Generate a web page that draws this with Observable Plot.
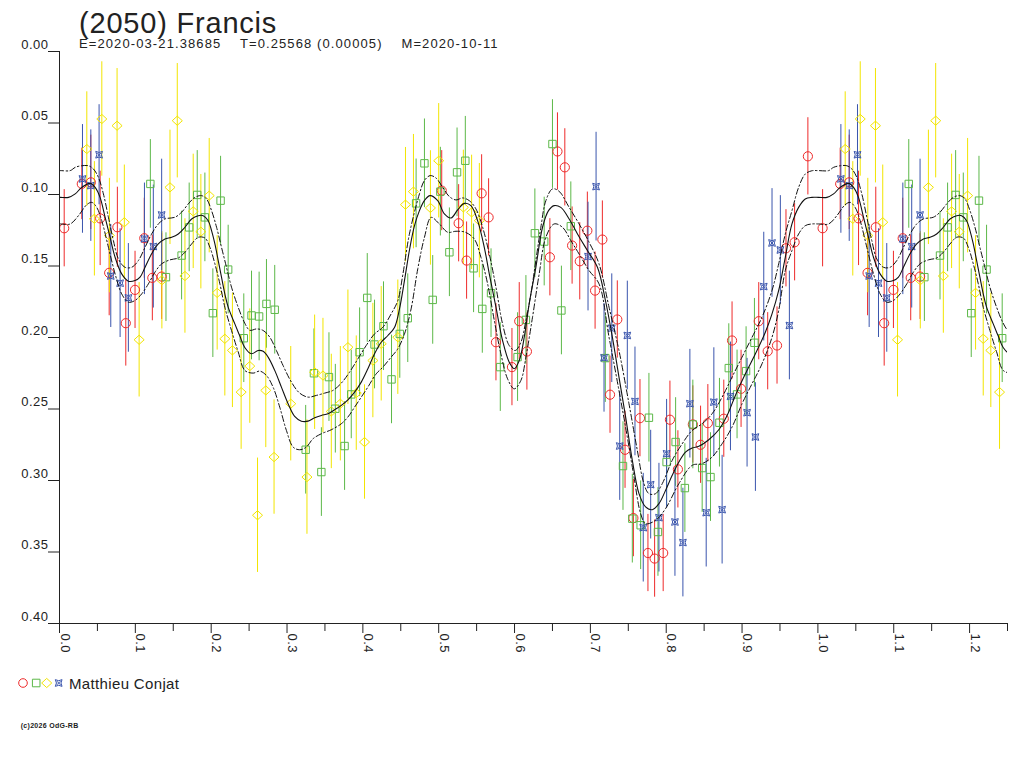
<!DOCTYPE html>
<html>
<head>
<meta charset="utf-8">
<script src="https://cdn.jsdelivr.net/npm/d3@7"></script>
<script src="https://cdn.jsdelivr.net/npm/@observablehq/plot@0.6"></script>
<style>
  html, body { margin: 0; padding: 0; background: #fff; }
  #wrap { position: relative; width: 1024px; height: 768px; overflow: hidden; font-family: "Liberation Sans", Arial, sans-serif; color: #222; }
  #chart { position: absolute; left: 0; top: 0; }
  .abs { position: absolute; white-space: pre; line-height: 1; }
  #title { left: 79px; top: 8.8px; font-size: 29px; letter-spacing: 0.8px; }
  #subtitle { left: 79px; top: 37.3px; font-size: 13px; letter-spacing: 1.1px; }
  #legendText { left: 69px; top: 675.6px; font-size: 15px; letter-spacing: 0.35px; }
  #copy { left: 20.7px; top: 722.4px; font-size: 7px; font-weight: bold; letter-spacing: 0.3px; }
  #legendSym { position: absolute; left: 0; top: 670px; }
</style>
</head>
<body>
<div id="wrap">
  <div id="chart"></div>
  <div id="title" class="abs">(2050) Francis</div>
  <div id="subtitle" class="abs">E=2020-03-21.38685    T=0.25568 (0.00005)    M=2020-10-11</div>
  <svg id="legendSym" width="70" height="26"></svg>
  <div id="legendText" class="abs">Matthieu Conjat</div>
  <div id="copy" class="abs">(c)2026 OdG-RB</div>
</div>
<script>
// ---- observations: [phase, magnitude, error] ----
const red = [
  [0.0062,0.1236,0.027],[0.0294,0.0926,0.025],[0.0413,0.0915,0.033],[0.0536,0.1167,0.033],
  [0.0763,0.1229,0.028],[0.0655,0.1548,0.030],[0.0874,0.1900,0.030],[0.0996,0.1667,0.027],
  [0.1118,0.1306,0.028],[0.1224,0.1583,0.030],[0.1347,0.1574,0.030],
  [0.5040,0.0973,0.028],[0.5263,0.1201,0.027],[0.5368,0.1462,0.027],[0.5566,0.0992,0.027],
  [0.5658,0.1160,0.027],[0.5755,0.2033,0.027],[0.5966,0.2207,0.027],[0.6062,0.1886,0.027],
  [0.6163,0.2098,0.027],[0.6466,0.1439,0.027],[0.6566,0.0699,0.027],[0.6663,0.0810,0.027],
  [0.6759,0.1357,0.027],[0.6860,0.1467,0.027],[0.6960,0.1253,0.027],[0.7062,0.1672,0.027],
  [0.7158,0.1315,0.027],[0.7355,0.1874,0.027],[0.7259,0.2400,0.027],
  [0.7457,0.2785,0.027],[0.7567,0.3263,0.027],[0.7654,0.2564,0.027],[0.7759,0.3507,0.027],
  [0.7847,0.3546,0.027],[0.7960,0.3507,0.027],[0.8049,0.2575,0.027],[0.8154,0.2922,0.027],
  [0.8351,0.2608,0.027],[0.8453,0.2750,0.027],[0.8549,0.2599,0.027],[0.8759,0.2568,0.027],
  [0.8868,0.2021,0.027],[0.8987,0.2359,0.027],[0.9220,0.1886,0.027],[0.9338,0.2096,0.027],
  [0.9461,0.2056,0.027],[0.9579,0.1376,0.027],[0.9693,0.1334,0.027],[0.9868,0.0733,0.027]
];
const green = [
  [0.1198,0.0926,0.031],[0.1404,0.1578,0.031],[0.1610,0.1427,0.031],[0.1710,0.1230,0.031],
  [0.1816,0.1003,0.031],[0.1917,0.1160,0.031],[0.2124,0.1043,0.031],[0.2224,0.1525,0.031],
  [0.2022,0.1830,0.031],[0.2430,0.2005,0.031],[0.2532,0.1846,0.031],
  [0.2632,0.1853,0.031],[0.2729,0.1765,0.031],[0.2838,0.1806,0.031],[0.3246,0.2785,0.031],
  [0.3453,0.2941,0.031],[0.3355,0.2250,0.031],[0.3553,0.2277,0.031],[0.3637,0.2498,0.031],
  [0.3759,0.2759,0.031],[0.3847,0.2398,0.031],[0.3957,0.2103,0.031],[0.4058,0.1723,0.031],
  [0.4154,0.2049,0.031],[0.4272,0.1921,0.031],[0.4378,0.2293,0.031],[0.4487,0.1975,0.031],
  [0.4592,0.1865,0.031],[0.4921,0.1737,0.031],
  [0.4702,0.1062,0.031],[0.4812,0.0782,0.031],[0.5022,0.0980,0.031],[0.5141,0.1404,0.031],
  [0.5242,0.0845,0.031],[0.5351,0.0764,0.031],[0.5460,0.1516,0.031],[0.5575,0.1800,0.031],
  [0.5690,0.1690,0.031],[0.5812,0.2207,0.031],[0.6040,0.2137,0.031],[0.6150,0.1877,0.031],
  [0.6268,0.1271,0.031],[0.6391,0.1329,0.031],[0.6500,0.0647,0.031],[0.6618,0.1811,0.031],
  [0.6742,0.1222,0.031],[0.7197,0.2144,0.031],
  [0.7430,0.2899,0.031],[0.7772,0.2561,0.031],[0.7553,0.3267,0.031],[0.7663,0.3313,0.031],
  [0.7891,0.3360,0.031],[0.8005,0.2871,0.031],[0.8124,0.2731,0.031],[0.8246,0.3053,0.031],
  [0.8351,0.2608,0.031],[0.8474,0.2913,0.031],[0.8584,0.2976,0.031],[0.8702,0.2596,0.031],
  [0.8825,0.2214,0.031],[0.8934,0.2398,0.031],[0.9053,0.2235,0.031],[0.9163,0.2037,0.031]
];
const yellow = [
  [0.0360,0.0682,0.040],[0.0558,0.0472,0.040],[0.0460,0.1170,0.040],[0.0759,0.0519,0.040],
  [0.0658,0.1287,0.040],[0.0855,0.1194,0.040],[0.1050,0.2016,0.040],[0.1350,0.1600,0.034],
  [0.1457,0.0950,0.040],[0.1553,0.0484,0.040],[0.1654,0.1570,0.040],[0.1763,0.1118,0.040],
  [0.1864,0.1260,0.040],[0.1974,0.1008,0.040],[0.2079,0.1688,0.040],[0.2180,0.2009,0.040],
  [0.2280,0.2090,0.040],[0.2509,0.2200,0.040],[0.2395,0.2382,0.040],[0.2720,0.2370,0.040],
  [0.2611,0.3243,0.040],[0.2829,0.2836,0.040],[0.3049,0.2463,0.040],[0.3263,0.2976,0.040],
  [0.3364,0.2243,0.040],[0.3474,0.2266,0.040],[0.3584,0.2517,0.040],[0.3703,0.2463,0.040],
  [0.3803,0.2068,0.040],[0.3913,0.2389,0.040],[0.4022,0.2731,0.040],[0.4132,0.2161,0.040],
  [0.4242,0.2044,0.040],[0.4461,0.1998,0.040],
  [0.4562,0.1071,0.040],[0.4667,0.0980,0.040],[0.4891,0.1094,0.040],[0.5000,0.0764,0.040],
  [0.5325,0.1090,0.040],[0.5434,0.1125,0.040],[0.5536,0.1183,0.040]
];
const blue = [
  [0.0303,0.0891,0.038],[0.0413,0.0938,0.039],[0.0522,0.0722,0.035],[0.0676,0.1570,0.036],
  [0.0799,0.1620,0.038],[0.0908,0.1723,0.038],[0.1120,0.1310,0.039],[0.1237,0.1364,0.043],
  [0.1347,0.1143,0.039],
  [0.6969,0.1434,0.038],[0.7075,0.0945,0.038],[0.7282,0.1935,0.038],[0.7487,0.1986,0.038],
  [0.7180,0.2142,0.038],[0.7588,0.2447,0.038],
  [0.7387,0.2759,0.038],[0.7697,0.3330,0.038],[0.7795,0.3029,0.038],[0.7904,0.3260,0.038],
  [0.8005,0.2813,0.038],[0.8115,0.3290,0.038],[0.8220,0.3434,0.038],[0.8312,0.2463,0.038],
  [0.8527,0.3225,0.038],[0.8628,0.2452,0.038],[0.8737,0.3204,0.038],[0.8847,0.2412,0.038],
  [0.9066,0.2526,0.038],[0.9176,0.2696,0.038],[0.9286,0.1644,0.038],[0.9395,0.1339,0.038],
  [0.9505,0.1388,0.038],[0.9624,0.1916,0.038]
];

// ---- fitted curve and its envelopes: [phase, magnitude] ----
const fitCurve = [
  [0.0009,0.1020],[0.0119,0.1020],[0.0207,0.0996],[0.0294,0.0950],[0.0404,0.0922],[0.0470,0.0950],
  [0.0535,0.1020],[0.0601,0.1159],[0.0667,0.1299],[0.0733,0.1439],[0.0820,0.1555],[0.0908,0.1606],
  [0.0996,0.1602],[0.1062,0.1578],[0.1128,0.1509],[0.1215,0.1415],[0.1303,0.1346],[0.1391,0.1311],
  [0.1479,0.1299],[0.1566,0.1276],[0.1654,0.1229],[0.1742,0.1171],[0.1830,0.1148],[0.1895,0.1148],
  [0.1961,0.1183],[0.2005,0.1253],[0.2049,0.1346],[0.2093,0.1462],[0.2136,0.1578],[0.2180,0.1695],
  [0.2224,0.1788],[0.2312,0.1905],[0.2378,0.1990],[0.2443,0.2070],[0.2531,0.2114],[0.2619,0.2091],
  [0.2685,0.2096],[0.2751,0.2137],[0.2838,0.2230],[0.2926,0.2347],[0.3014,0.2463],[0.3101,0.2552],
  [0.3189,0.2585],[0.3277,0.2585],[0.3365,0.2561],[0.3453,0.2545],[0.3540,0.2533],[0.3628,0.2505],
  [0.3716,0.2475],[0.3803,0.2436],[0.3891,0.2382],[0.3979,0.2312],[0.4066,0.2219],[0.4154,0.2114],
  [0.4242,0.2033],[0.4330,0.1986],[0.4417,0.1930],[0.4483,0.1800],[0.4549,0.1600],[0.4614,0.1390],
  [0.4680,0.1220],[0.4746,0.1113],[0.4811,0.1043],[0.4886,0.1008],[0.4987,0.1043],[0.5075,0.1136],
  [0.5163,0.1164],[0.5250,0.1108],[0.5338,0.1062],[0.5425,0.1078],[0.5513,0.1183],[0.5601,0.1369],
  [0.5667,0.1555],[0.5755,0.1788],[0.5842,0.2021],[0.5930,0.2173],[0.5996,0.2219],[0.6062,0.2161],
  [0.6128,0.1998],[0.6193,0.1765],[0.6281,0.1509],[0.6369,0.1229],[0.6448,0.1113],[0.6522,0.1078],
  [0.6610,0.1090],[0.6720,0.1171],[0.6830,0.1276],[0.6961,0.1392],[0.7093,0.1509],[0.7202,0.1750],
  [0.7290,0.1998],[0.7377,0.2277],[0.7465,0.2557],[0.7553,0.2859],[0.7641,0.3092],[0.7728,0.3185],
  [0.7816,0.3204],[0.7904,0.3162],[0.7991,0.3069],[0.8079,0.2964],[0.8167,0.2871],[0.8254,0.2801],
  [0.8342,0.2773],[0.8430,0.2761],[0.8561,0.2715],[0.8693,0.2645],[0.8803,0.2545],[0.8912,0.2405],
  [0.9044,0.2254],[0.9176,0.2114],[0.9307,0.1963],[0.9395,0.1835],[0.9483,0.1671],[0.9570,0.1439],
  [0.9658,0.1206],[0.9746,0.1090],[0.9833,0.1031],[0.9921,0.1020]
];
const fitUpper = [
  [0.0009,0.0833],[0.0141,0.0833],[0.0207,0.0810],[0.0294,0.0799],[0.0382,0.0799],[0.0448,0.0822],
  [0.0513,0.0880],[0.0579,0.0996],[0.0645,0.1159],[0.0711,0.1323],[0.0777,0.1451],[0.0864,0.1509],
  [0.0952,0.1509],[0.1040,0.1462],[0.1128,0.1369],[0.1215,0.1276],[0.1303,0.1206],[0.1391,0.1171],
  [0.1522,0.1159],[0.1610,0.1124],[0.1698,0.1066],[0.1786,0.1020],[0.1873,0.1008],[0.1939,0.1031],
  [0.2005,0.1113],[0.2071,0.1229],[0.2136,0.1369],[0.2202,0.1509],[0.2268,0.1648],[0.2356,0.1788],
  [0.2443,0.1900],[0.2510,0.1950],[0.2597,0.1940],[0.2685,0.1951],[0.2773,0.1998],[0.2860,0.2091],
  [0.2948,0.2196],[0.3058,0.2312],[0.3167,0.2389],[0.3277,0.2417],[0.3387,0.2405],[0.3496,0.2389],
  [0.3606,0.2370],[0.3716,0.2319],[0.3825,0.2242],[0.3935,0.2149],[0.4044,0.2056],[0.4154,0.1975],
  [0.4264,0.1928],[0.4373,0.1835],[0.4461,0.1742],[0.4527,0.1560],[0.4614,0.1276],[0.4746,0.0996],
  [0.4811,0.0903],[0.4886,0.0868],[0.4965,0.0885],[0.5053,0.0950],[0.5141,0.1015],[0.5228,0.1038],
  [0.5316,0.1024],[0.5403,0.1043],[0.5491,0.1101],[0.5579,0.1229],[0.5667,0.1416],[0.5755,0.1648],
  [0.5842,0.1905],[0.5930,0.2056],[0.6009,0.2091],[0.6084,0.2033],[0.6150,0.1881],[0.6216,0.1695],
  [0.6281,0.1462],[0.6347,0.1229],[0.6413,0.1043],[0.6500,0.0961],[0.6588,0.0978],[0.6720,0.1090],
  [0.6851,0.1206],[0.6983,0.1334],[0.7114,0.1485],[0.7246,0.1788],[0.7377,0.2091],[0.7509,0.2463],
  [0.7619,0.2789],[0.7706,0.3022],[0.7772,0.3092],[0.7860,0.3092],[0.7948,0.3022],[0.8079,0.2859],
  [0.8211,0.2743],[0.8342,0.2650],[0.8474,0.2603],[0.8605,0.2533],[0.8737,0.2417],[0.8868,0.2277],
  [0.9000,0.2137],[0.9132,0.1998],[0.9263,0.1858],[0.9395,0.1671],[0.9483,0.1485],[0.9570,0.1276],
  [0.9658,0.1113],[0.9746,0.0950],[0.9833,0.0857],[0.9921,0.0834]
];
const fitLower = [
  [0.0009,0.1206],[0.0141,0.1206],[0.0250,0.1148],[0.0360,0.1071],[0.0426,0.1055],[0.0491,0.1090],
  [0.0557,0.1183],[0.0645,0.1369],[0.0733,0.1555],[0.0820,0.1695],[0.0908,0.1753],[0.0996,0.1741],
  [0.1084,0.1695],[0.1172,0.1625],[0.1259,0.1543],[0.1347,0.1485],[0.1457,0.1457],[0.1566,0.1444],
  [0.1654,0.1404],[0.1742,0.1346],[0.1830,0.1299],[0.1917,0.1304],[0.1983,0.1369],[0.2049,0.1485],
  [0.2115,0.1625],[0.2180,0.1788],[0.2268,0.1951],[0.2356,0.2100],[0.2443,0.2230],[0.2553,0.2249],
  [0.2641,0.2235],[0.2729,0.2266],[0.2816,0.2347],[0.2904,0.2487],[0.2992,0.2650],[0.3080,0.2766],
  [0.3167,0.2785],[0.3255,0.2766],[0.3343,0.2708],[0.3453,0.2673],[0.3584,0.2645],[0.3716,0.2603],
  [0.3803,0.2556],[0.3891,0.2487],[0.3979,0.2417],[0.4066,0.2347],[0.4176,0.2254],[0.4264,0.2207],
  [0.4373,0.2137],[0.4461,0.2079],[0.4549,0.1975],[0.4636,0.1800],[0.4724,0.1520],[0.4812,0.1300],
  [0.4900,0.1160],[0.5009,0.1206],[0.5119,0.1264],[0.5228,0.1257],[0.5351,0.1264],[0.5469,0.1311],
  [0.5557,0.1439],[0.5645,0.1625],[0.5733,0.1881],[0.5820,0.2114],[0.5908,0.2289],[0.5996,0.2359],
  [0.6084,0.2300],[0.6150,0.2137],[0.6237,0.1858],[0.6325,0.1555],[0.6413,0.1299],[0.6522,0.1206],
  [0.6632,0.1229],[0.6742,0.1322],[0.6851,0.1416],[0.6983,0.1532],[0.7114,0.1625],[0.7246,0.1998],
  [0.7377,0.2370],[0.7487,0.2696],[0.7575,0.2975],[0.7663,0.3232],[0.7728,0.3302],[0.7860,0.3278],
  [0.7991,0.3197],[0.8167,0.3022],[0.8342,0.2894],[0.8474,0.2882],[0.8605,0.2836],[0.8737,0.2743],
  [0.8868,0.2626],[0.9000,0.2463],[0.9132,0.2323],[0.9263,0.2184],[0.9395,0.1998],[0.9483,0.1811],
  [0.9570,0.1532],[0.9658,0.1392],[0.9746,0.1276],[0.9833,0.1218],[0.9921,0.1206]
];

// ---- axis ticks ----
const xMajor = [0,0.1,0.2,0.3,0.4,0.5,0.6,0.7,0.8,0.9,1.0,1.1,1.2];
const xMinor = [0.05,0.15,0.25,0.35,0.45,0.55,0.65,0.75,0.85,0.95,1.05,1.15,1.25];
const yTicks = [0,0.05,0.1,0.15,0.2,0.25,0.3,0.35,0.4];

// ---- symbols ----
const symSquare = {draw(ctx, size){const r=Math.sqrt(size/Math.PI), h=r*0.86; ctx.moveTo(-h,-h); ctx.lineTo(h,-h); ctx.lineTo(h,h); ctx.lineTo(-h,h); ctx.closePath();}};
const symDiamond = {draw(ctx, size){const r=Math.sqrt(size/Math.PI), a=r*1.12, b=r*1.02; ctx.moveTo(0,-b); ctx.lineTo(a,0); ctx.lineTo(0,b); ctx.lineTo(-a,0); ctx.closePath();}};
const symStar = {draw(ctx, size){const r=Math.sqrt(size/Math.PI), h=r*0.8, k=h*0.35;
  ctx.moveTo(-h,-h); ctx.quadraticCurveTo(0,-k,h,-h); ctx.quadraticCurveTo(k,0,h,h);
  ctx.quadraticCurveTo(0,k,-h,h); ctx.quadraticCurveTo(-k,0,-h,-h); ctx.closePath();
  ctx.moveTo(-h*0.55,-h*0.55); ctx.lineTo(h*0.55,h*0.55); ctx.moveTo(h*0.55,-h*0.55); ctx.lineTo(-h*0.55,h*0.55);}};

const series = [
  {data: red, color: "#ee2a2a", symbol: "circle", r: 4.6},
  {data: green, color: "#5cb848", symbol: symSquare, r: 4.3},
  {data: yellow, color: "#f2e500", symbol: symDiamond, r: 4.5},
  {data: blue, color: "#3a55ad", symbol: symStar, r: 4.2}
];

// phase-folded display: phases below 0.25 are shown again one period later
const fold = arr => arr.flatMap(([p, m, e]) => p < 0.25 ? [{p, m, e}, {p: p + 1, m, e}] : [{p, m, e}]);
const wrapCurve = arr => [
  ...arr.filter(d => d[0] > 0.95).map(d => [d[0] - 1, d[1]]),
  ...arr,
  ...arr.filter(d => d[0] < 0.3).map(d => [d[0] + 1, d[1]])
];

const ink = "#222";
const marks = [];
for (const s of series) {
  const rows = fold(s.data);
  marks.push(Plot.ruleX(rows, {x: "p", y1: d => d.m - d.e, y2: d => d.m + d.e, stroke: s.color, strokeWidth: 1, clip: true}));
}
for (const s of series) {
  const rows = fold(s.data);
  marks.push(Plot.dot(rows, {x: "p", y: "m", symbol: s.symbol, r: s.r, stroke: s.color, fill: "none", strokeWidth: 1, clip: true}));
}
marks.push(
  Plot.line(wrapCurve(fitUpper), {x: d => d[0], y: d => d[1], curve: "catmull-rom", stroke: "#111", strokeWidth: 1, strokeDasharray: "6,2.5,1.5,2.5", clip: true}),
  Plot.line(wrapCurve(fitLower), {x: d => d[0], y: d => d[1], curve: "catmull-rom", stroke: "#111", strokeWidth: 1, strokeDasharray: "6,2.5,1.5,2.5", clip: true}),
  Plot.line(wrapCurve(fitCurve), {x: d => d[0], y: d => d[1], curve: "catmull-rom", stroke: "#111", strokeWidth: 1.1, clip: true}),
  Plot.ruleX([0], {stroke: ink, strokeWidth: 1}),
  Plot.ruleY([0.4], {stroke: ink, strokeWidth: 1}),
  Plot.axisY({ticks: yTicks, tickSize: 11, tickFormat: () => "", label: null, stroke: ink}),
  Plot.text(yTicks, {y: d => d, text: d => d.toFixed(2), frameAnchor: "left", dx: -11, dy: -7, textAnchor: "end", fontSize: 13, fill: ink}),
  Plot.axisX({ticks: xMajor, tickSize: 10, tickFormat: () => "", label: null, stroke: ink}),
  Plot.axisX({ticks: xMinor, tickSize: 8, tickFormat: () => "", label: null, stroke: ink}),
  Plot.text(xMajor, {x: d => d, text: d => d.toFixed(1), frameAnchor: "bottom", dx: 1, dy: 10, rotate: 90, textAnchor: "start", lineAnchor: "bottom", fontSize: 13, fill: ink})
);

const chart = Plot.plot({
  width: 1024, height: 768,
  marginLeft: 59, marginRight: 17, marginTop: 51, marginBottom: 145,
  x: {domain: [0, 1.25]},
  y: {domain: [0, 0.4], reverse: true},
  style: {fontFamily: "'Liberation Sans', Arial, sans-serif", fontSize: "13px", color: ink, background: "transparent", letterSpacing: "0.5px"},
  marks
});
document.getElementById("chart").appendChild(chart);

// legend symbols
const lg = d3.select("#legendSym");
const lgItems = [
  {x: 23, color: "#ee2a2a", symbol: d3.symbolCircle, r: 4.3},
  {x: 36.2, color: "#5cb848", symbol: symSquare, r: 4.4},
  {x: 46.7, color: "#f2e500", symbol: symDiamond, r: 4.5},
  {x: 58.7, color: "#3a55ad", symbol: symStar, r: 4.2}
];
for (const it of lgItems) {
  lg.append("path")
    .attr("transform", `translate(${it.x},13)`)
    .attr("d", d3.symbol(it.symbol, it.r * it.r * Math.PI)())
    .attr("fill", "none").attr("stroke", it.color).attr("stroke-width", 1);
}
</script>
</body>
</html>
